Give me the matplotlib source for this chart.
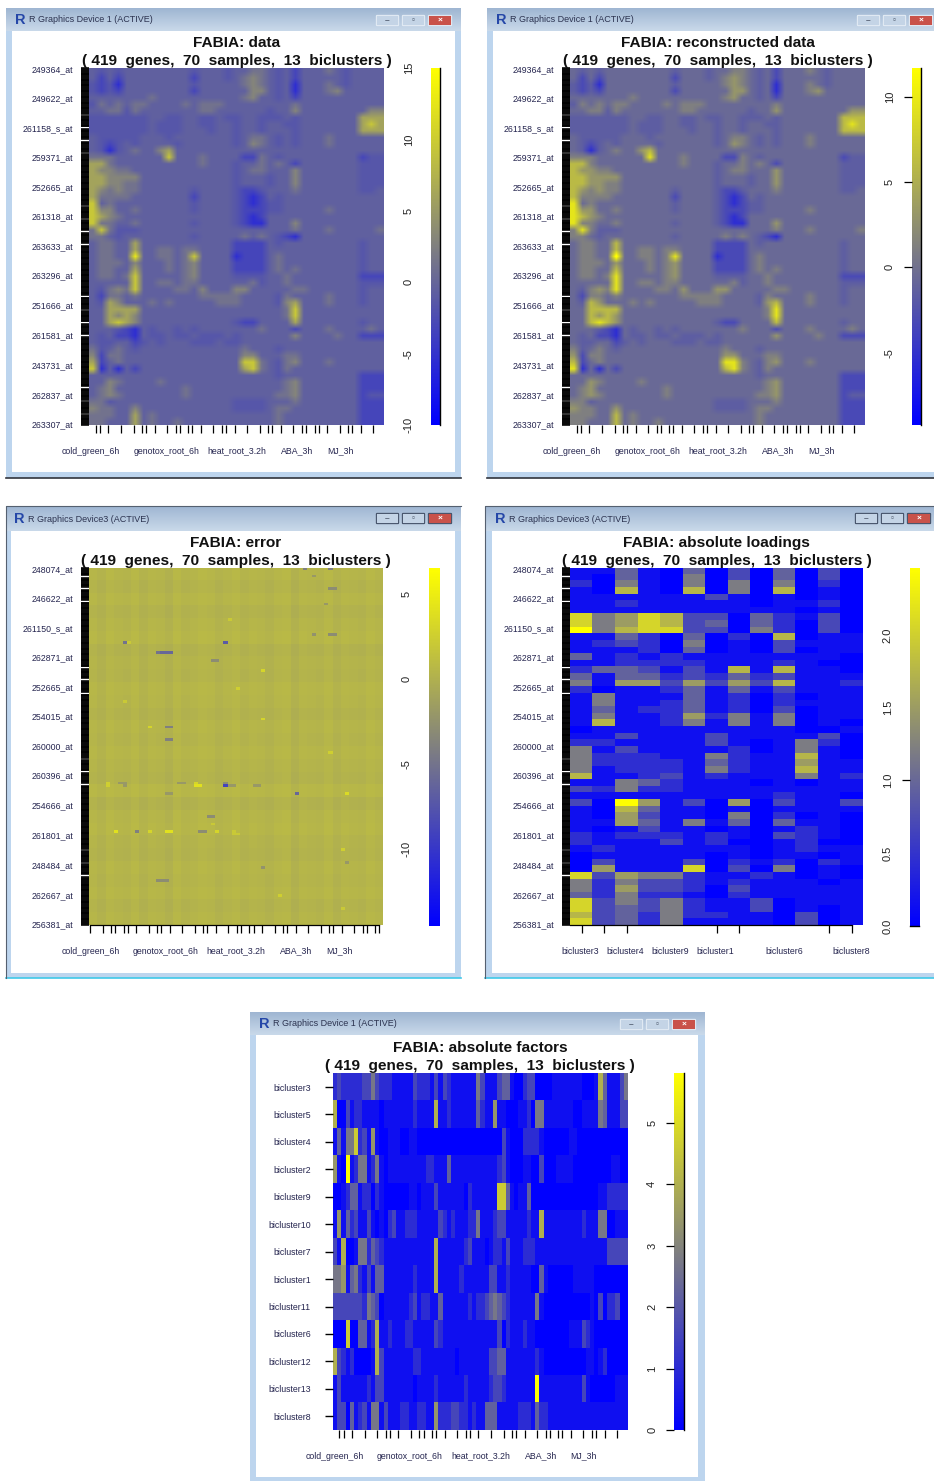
import numpy as np
import matplotlib
matplotlib.use("Agg")
import matplotlib.pyplot as plt
from matplotlib.colors import LinearSegmentedColormap
from matplotlib.patches import Rectangle, FancyBboxPatch

W, H = 934, 1481
plt.rcParams['font.family'] = ['Liberation Sans', 'DejaVu Sans']

SUBTITLE = "( 419  genes,  70  samples,  13  biclusters )"
N_GENES = 419
N_SAMPLES = 70

# expression grid: 54 gene groups x 35 sample groups, as level digits
DATA_LEVELS = [-8, -5.5, -3.2, -1.6, -0.6, 1.2, 3, 6, 9.5, 13]
DATA_GRID = [
    "43434 44444 44344 43445 54342 44454 34444",
    "42424 44444 44244 43456 54342 44444 34444",
    "32314 44444 44344 44456 54341 44454 34444",
    "32324 44444 44244 44446 64341 44456 44444",
    "44444 44544 44444 44456 44342 44444 44444",
    "35454 55444 45455 54444 44445 44444 44444",
    "44553 54444 44455 44444 43446 44444 44466",
    "33333 33443 34433 43344 33343 44444 44777",
    "33333 33433 34433 44344 34433 44444 44787",
    "33333 33433 34443 44344 34443 44444 44777",
    "43333 34443 44444 44345 54343 44454 44444",
    "43234 34444 34444 44346 54343 44454 44444",
    "43134 54467 44444 44444 44444 44444 44444",
    "55544 44448 44454 44422 54344 44444 44233",
    "77544 44444 44454 44344 54542 44444 44333",
    "76655 44444 44444 44345 54446 44444 44333",
    "77666 64444 44444 44344 43446 44444 44333",
    "77665 54444 44444 44344 43446 44444 44333",
    "76565 54444 44344 44322 34445 44444 44334",
    "75555 44444 44244 44321 24344 44444 44444",
    "84544 44444 44344 44321 23344 44444 44444",
    "86644 54444 44344 44322 23344 44454 44444",
    "87654 44444 44444 44321 24444 44444 44444",
    "85544 54444 44344 44321 14446 44444 44444",
    "58533 34444 44444 44444 44445 44454 44445",
    "55434 44444 44344 44454 54321 44444 44444",
    "45544 74444 44444 44222 24344 44444 44344",
    "45544 74455 45544 44222 24444 44444 44344",
    "45544 94455 45844 44122 24544 44444 44344",
    "45554 64445 45644 44222 24544 44444 44344",
    "45544 74445 45644 44222 24545 44444 44344",
    "45545 84444 45644 44333 34454 44444 44222",
    "44444 84455 45544 44445 34454 44444 44333",
    "43565 84444 55464 44664 44445 54444 44344",
    "42554 54444 44455 55544 44354 44454 44344",
    "43764 44545 44444 55544 44367 44454 44344",
    "44777 74444 44444 44444 44458 44444 44444",
    "44767 64444 44444 44444 44458 44444 44444",
    "44787 64444 44444 44322 44447 44444 44344",
    "44432 14344 34344 44444 54442 44454 44454",
    "43422 14334 33433 34344 44446 44445 44222",
    "43344 23434 44333 43344 44444 44444 44444",
    "53454 34444 44444 44454 44344 44444 44444",
    "62554 44444 44444 44466 44455 44444 44444",
    "72454 44444 44444 44488 54356 44454 44444",
    "81414 24444 44444 44478 54354 44444 44444",
    "44444 44444 44444 44444 44344 44444 44222",
    "44654 44454 44444 44444 44456 44444 44222",
    "45644 44444 45444 44444 44456 44444 44222",
    "45654 44444 45444 44444 44556 44444 44233",
    "55344 44444 44444 44333 34445 44444 44222",
    "65544 64444 44444 44333 34554 44444 44222",
    "55544 74544 44444 44444 44544 44444 44222",
    "55444 74544 54444 44444 44544 44444 44222",
]

# error panel: baseline, faint bands, and the visible deviating cells (140 gene groups x 70 samples)
ERROR_BASE = 0.3
ERROR_ROW_SHIFT = [0.1, -0.1, 0.15, -0.15, 0.05, 0.2, -0.2, 0.0, -0.1, 0.15, 0.05, -0.15, 0.1, -0.05,
                   0.15, 0.0, -0.15, 0.25, -0.2, 0.1, 0.2, -0.05, -0.15, 0.1, 0.0, 0.15, -0.1, 0.05]
ERROR_COL_SHIFT = [0.1, -0.2, 0.2, 0.0, -0.1, 0.2, -0.2, 0.1, 0.0, -0.3, 0.2, -0.1, 0.0, 0.2, 0.1, -0.2, 0.0, 0.2,
                   -0.1, 0.1, 0.0, -0.2, 0.1, 0.2, -0.3, 0.1, 0.0, -0.1, 0.2, -0.2, 0.1, 0.0, -0.1, 0.2, 0.0]
ERROR_ROW = [33,33,33,33,29,29,0,0,8,8,26,26,26,3,36,36,29,62,62,62,67,67,
             84,84,84,84,84,85,85,85,85,85,85,85,84,85,85,84,88,88,88,88,
             103,103,103,103,103,103,103,103,103,104,104,97,97,122,122,122,117,
             59,40,14,20,52,72,110,115,128,133,100,47]
ERROR_COL = [16,17,18,19,8,9,51,57,57,58,53,57,58,53,29,30,32,18,19,14,18,19,
             4,7,8,21,22,25,26,32,33,34,39,40,25,4,8,32,49,18,19,61,
             6,11,14,18,19,26,27,30,34,34,35,28,29,16,17,18,41,
             41,41,56,33,8,57,60,61,45,60,29,35]
ERROR_VALUE = [-5,-6,-6,-6,-5,2,-4,-4,-3,-3,-2.5,-3,-3,-2,-3,-3,-7,-4,-4,3,-4,-4,
               2.5,-2,-2,-2,-2,4,4,-9,-2,-2,-2,-2,3,2.5,-2,-3,-6,-2,-2,3.5,
               4,-4,3,4,4,-3,-3,3,2,2,2,-3,-3,-3,-3,-3,-2.5,
               3,3,-2,2,2,2.5,2.5,-2,2.5,2,2,2.5]

# loadings: 54 gene groups x 13 biclusters, as level digits
LOADING_LEVELS = [0, 0.15, 0.45, 0.7, 0.95, 1.2, 1.5, 1.75, 2.05, 2.46]
LOADING_GRID = [
    "1141040304030", "1041050304030", "2051050505020", "1071070507010",
    "1111113101010", "1121111101120", "1111111111010", "8568733042130",
    "8568734042030", "9578833052030", "1142040207011", "1232050103111",
    "1112040103011", "4121211111110", "1122221112100", "2443131717110",
    "4144232423111", "5166363637112", "2011241413111", "1511141202011",
    "1511241202111", "1412241203011", "1511262515011", "1711251515010",
    "0111111111001", "1131113111130", "2211113101520", "5131111201510",
    "5222115211710", "5222214211611", "5122215211711", "7112312111512",
    "1154211101011", "3252211111111", "1111111112110", "3096130603113",
    "1074110101111", "1063110502010", "1164151404110", "1013110101210",
    "2122212103210", "2111312001200", "1211111101211", "0111110101101",
    "0311130212021", "0611180305010", "8365521121010", "5253321211101",
    "5263320311111", "4252210211111", "8353521130111", "8343521130101",
    "7342522110301", "8342511110301",
]

# factors: 13 biclusters x 70 samples, as level digits
FACTOR_LEVELS = [0, 0.35, 1.0, 1.6, 2.2, 2.7, 3.4, 4.0, 4.6, 5.8]
FACTOR_GRID = [
    "2322222335 3222111113 2221313211 1111531113 4410023300 0011111110 0017411135",
    "7003122111 1011111112 1111711211 1111421161 1000112055 1111111001 1115411133",
    "1415582316 1001110011 0000000000 0000000000 3100022221 0000001100 0000000000",
    "6109125512 5101111111 1122111411 1111111112 3100011003 0001111000 0000001100",
    "0012441220 2100000011 0111311111 1021111118 8410114000 0000000000 0001122222",
    "1614231131 0102311222 1111132121 1122511123 3111112117 1111111112 1115500111",
    "3170015524 3211111111 1111711111 1231110122 1311122211 1111111111 1111133333",
    "5561452131 4411111112 1111711111 2111111331 1211111004 1000000111 1100000000",
    "3333333254 3011111123 1221141111 1121223454 3211111151 0000000000 0103022300",
    "0008004412 7112111221 1111321111 1111111113 0211121100 0000001113 2100000000",
    "7321200001 7311111112 2111111110 1111111334 4111111121 0000000000 1101200000",
    "1311111121 3311111110 1111211111 1211111233 2111111191 1111111113 1000000111",
    "1330412315 5131112211 2211622233 2212114441 1111222142 2111111111 1111111111",
]

GENE_LABELS_A = ["249364_at", "249622_at", "261158_s_at", "259371_at", "252665_at", "261318_at",
                 "263633_at", "263296_at", "251666_at", "261581_at", "243731_at", "262837_at", "263307_at"]
GENE_LABELS_B = ["248074_at", "246622_at", "261150_s_at", "262871_at", "252665_at", "254015_at",
                 "260000_at", "260396_at", "254666_at", "261801_at", "248484_at", "262667_at", "256381_at"]
GENE_LABEL_POS = [1, 35, 70, 104, 139, 173, 209, 243, 278, 313, 348, 383, 418]
GENE_GAPS_A = [54, 69, 84, 99, 161, 176, 191, 206, 267, 283, 298, 313, 374, 390, 405]
GENE_GAPS_B = [9, 23, 38, 116, 130, 146, 223, 238, 253, 330, 345, 360]

SAMPLE_TICKS_A = [1, 2, 4, 7, 10, 12, 13, 15, 18, 20, 21, 23, 24, 26, 29, 31, 32, 34, 37, 40, 42, 43,
                  45, 48, 50, 51, 53, 54, 56, 59, 61, 62, 64, 67]
SAMPLE_TICKS_B = [0, 3, 5, 6, 8, 9, 11, 14, 16, 17, 19, 22, 25, 27, 28, 30, 33, 35, 36, 38, 39, 41,
                  44, 46, 47, 49, 52, 55, 57, 58, 60, 63, 65, 66, 68, 69]
SAMPLE_LABELS = ["cold_green_6h", "genotox_root_6h", "heat_root_3.2h", "ABA_3h", "MJ_3h"]
SAMPLE_LABEL_POS = [0.3, 18.3, 35, 49.4, 59.6]
LOADING_TICKS = [0.5, 1.5, 2.5, 6.5, 7.5, 11.5, 12.5]
LOADING_LABELS = ["bicluster3", "bicluster4", "bicluster9", "bicluster1", "bicluster6", "bicluster8"]
LOADING_LABEL_POS = [0.45, 2.45, 4.45, 6.45, 9.5, 12.45]
FACTOR_LABELS = ["bicluster3", "bicluster5", "bicluster4", "bicluster2", "bicluster9", "bicluster10",
                 "bicluster7", "bicluster1", "bicluster11", "bicluster6", "bicluster12", "bicluster13", "bicluster8"]

cmap = LinearSegmentedColormap.from_list("fabia", ["#0000ff", "#808080", "#ffff00"])
NAVY = "#25254f"
TICK_FONT = 6.3


def parse(rows):
    return np.array([[int(c) for c in r.replace(" ", "")] for r in rows])


data_values = np.array(DATA_LEVELS)[parse(DATA_GRID)]
error_values = ERROR_BASE + np.repeat(np.array(ERROR_ROW_SHIFT), 5)[:, None] + np.repeat(np.array(ERROR_COL_SHIFT), 2)[None, :]
for r, c, v in zip(ERROR_ROW, ERROR_COL, ERROR_VALUE):
    error_values[r, c] = v
loading_values = np.array(LOADING_LEVELS)[parse(LOADING_GRID)]
factor_values = np.array(FACTOR_LEVELS)[parse(FACTOR_GRID)]

fig = plt.figure(figsize=(W / 100, H / 100), dpi=100, facecolor="white")
chrome = fig.add_axes([0, 0, 1, 1], zorder=0)
chrome.set_xlim(0, W)
chrome.set_ylim(H, 0)
chrome.axis("off")


def px_axes(x0, y0, x1, y1):
    return fig.add_axes([x0 / W, 1 - y1 / H, (x1 - x0) / W, (y1 - y0) / H], zorder=2)


def window(x0, y0, x1, y1, ix0, iy0, ix1, iy1, caption, active, edge):
    chrome.add_patch(Rectangle((x0, y0), x1 - x0, y1 - y0, fc="#bdd5ee", ec="none", zorder=1))
    grad = np.linspace(0, 1, 32)[:, None]
    tb = LinearSegmentedColormap.from_list("tb", ["#9fb6d2", "#c9d9ea"])
    chrome.imshow(grad, extent=(x0, x1, iy0, y0), cmap=tb, aspect="auto", zorder=1.5)
    chrome.set_xlim(0, W)
    chrome.set_ylim(H, 0)
    chrome.add_patch(Rectangle((ix0, iy0), ix1 - ix0, iy1 - iy0, fc="white", ec="none", zorder=2))
    chrome.plot([x0, x1], [y1, y1], color=edge, lw=1.2, zorder=3)
    if active:
        chrome.plot([x0, x0, x1], [y1, y0, y0], color="#556070", lw=0.8, zorder=3)
    chrome.text(ix0 + 3, (y0 + iy0) / 2 + 0.5, "R", color="#2547a8", fontsize=10.5, fontweight="bold",
                va="center", ha="left", zorder=4)
    chrome.text(ix0 + 17, (y0 + iy0) / 2 + 0.5, caption, color="#2c3350", fontsize=6.5,
                va="center", ha="left", zorder=4)
    bx = x0 + 371
    for i, (w, col) in enumerate(zip([23, 23, 24], ["#c4d4e6", "#c4d4e6", "#c9524a"])):
        left = bx + [0, 26, 52][i]
        if left >= W:
            continue
        chrome.add_patch(FancyBboxPatch((left, y0 + 8), w - 2, 9, boxstyle="round,pad=0.6", fc=col,
                                        ec="#46536a" if active else "#e2ebf4", lw=0.8, zorder=4))
        chrome.text(left + w / 2 - 1, y0 + 12.5, ["–", "▫", "×"][i],
                    color="#ffffff" if i == 2 else "#4a5568", fontsize=6, fontweight="bold",
                    ha="center", va="center", zorder=5)


def heatmap(box, values, xmax, ymax, vmin, vmax, title, interpolation="nearest"):
    ax = px_axes(*box)
    ax.imshow(values, cmap=cmap, vmin=vmin, vmax=vmax, extent=(0, xmax, ymax, 0), aspect="auto",
              interpolation=interpolation)
    for s in ax.spines.values():
        s.set_visible(False)
    ax.set_title(title + "\n" + SUBTITLE, fontsize=11.1, fontweight="bold", color="#111111",
                 pad=1.5, linespacing=1.4)
    return ax


def gene_axis(ax, labels, gaps):
    removed = set()
    for g in gaps:
        removed.update([g, g + 1])
    ticks = [g + 0.5 for g in range(N_GENES) if g not in removed]
    ax.set_yticks(ticks, [""] * len(ticks))
    ax.tick_params(axis="y", which="major", length=5.6, width=1.15, color="black")
    ax.set_yticks(GENE_LABEL_POS, labels, minor=True, fontsize=TICK_FONT, color=NAVY)
    ax.tick_params(axis="y", which="minor", length=0, pad=11.5)


def sample_axis(ax, ticks, labels, label_pos, line=None):
    ax.set_xticks(ticks, [""] * len(ticks))
    ax.tick_params(axis="x", which="major", length=6, width=0.9, color="black")
    ax.set_xticks(label_pos, labels, minor=True, fontsize=TICK_FONT, color=NAVY)
    ax.tick_params(axis="x", which="minor", length=0, pad=15.5)
    if line is not None:
        ax.spines["bottom"].set_visible(True)
        ax.spines["bottom"].set_bounds(*line)
        ax.spines["bottom"].set_linewidth(0.9)


def colorbar(box, vmin, vmax, labeled, marked, edge_line=False, bottom_line=False, fmt="%g"):
    ax = px_axes(*box)
    ax.imshow(np.linspace(0, 1, 256)[:, None], cmap=cmap, origin="lower", extent=(0, 1, vmin, vmax),
              aspect="auto")
    ax.set_xticks([])
    for s in ax.spines.values():
        s.set_visible(False)
    if edge_line:
        ax.spines["right"].set_visible(True)
        ax.spines["right"].set_linewidth(1.0)
    if bottom_line:
        ax.spines["bottom"].set_visible(True)
        ax.spines["bottom"].set_linewidth(1.0)
    unmarked = [v for v in labeled if v not in marked]
    ax.set_yticks(marked, [fmt % v for v in marked], rotation=90, va="center", fontsize=8, color="#222222")
    ax.set_yticks(unmarked, [fmt % v for v in unmarked], minor=True, rotation=90, va="center", fontsize=8,
                  color="#222222")
    ax.tick_params(axis="y", which="major", length=5.8, width=0.9, pad=6.5)
    ax.tick_params(axis="y", which="minor", length=0, pad=12.3)
    ax.set_ylim(vmin, vmax)
    return ax


# ---------- windows
window(6, 8, 461, 478, 12, 31, 455, 472, "R Graphics Device 1 (ACTIVE)", False, "#30343c")
window(487, 8, 945, 478, 493, 31, 945, 472, "R Graphics Device 1 (ACTIVE)", False, "#30343c")
window(6, 506, 461, 978, 11, 531, 455, 973, "R Graphics Device3 (ACTIVE)", True, "#40c8e8")
window(485, 506, 945, 978, 492, 531, 945, 973, "R Graphics Device3 (ACTIVE)", True, "#40c8e8")
window(250, 1012, 705, 1490, 256, 1035, 698, 1477, "R Graphics Device 1 (ACTIVE)", False, "#30343c")

# ---------- data
ax = heatmap((89.3, 68, 384, 425), data_values, N_SAMPLES, N_GENES, -10, 15, "FABIA: data", "bilinear")
gene_axis(ax, GENE_LABELS_A, GENE_GAPS_A)
sample_axis(ax, [s + 0.5 for s in SAMPLE_TICKS_A], SAMPLE_LABELS, SAMPLE_LABEL_POS)
colorbar((431, 68, 440, 425), -10, 15, [15, 10, 5, 0, -5, -10], [], edge_line=True)

# ---------- reconstructed data
ax = heatmap((570.3, 68, 865, 425), data_values, N_SAMPLES, N_GENES, -9.25, 11.7, "FABIA: reconstructed data", "bilinear")
gene_axis(ax, GENE_LABELS_A, GENE_GAPS_A)
sample_axis(ax, [s + 0.5 for s in SAMPLE_TICKS_A], SAMPLE_LABELS, SAMPLE_LABEL_POS)
colorbar((911.7, 68, 921, 425), -9.25, 11.7, [10, 5, 0, -5], [10, 5, 0], edge_line=True)

# ---------- error
ax = heatmap((89.3, 568, 382.7, 925), error_values, N_SAMPLES, N_GENES, -14.5, 6.5, "FABIA: error")
gene_axis(ax, GENE_LABELS_B, GENE_GAPS_B)
sample_axis(ax, [s + 0.2 for s in SAMPLE_TICKS_B], SAMPLE_LABELS, SAMPLE_LABEL_POS, line=(0.2, 69.2))
colorbar((429, 568, 439, 926), -14.5, 6.5, [5, 0, -5, -10], [])

# ---------- loadings
ax = heatmap((570.3, 568, 863.3, 925), loading_values, 13, N_GENES, 0, 2.46, "FABIA: absolute loadings")
gene_axis(ax, GENE_LABELS_B, GENE_GAPS_B)
sample_axis(ax, LOADING_TICKS, LOADING_LABELS, LOADING_LABEL_POS, line=(0, 12.5))
colorbar((910, 568, 919.3, 926), 0, 2.46, [2, 1.5, 1, 0.5, 0], [1], bottom_line=True, fmt="%.1f")

# ---------- factors
ax = heatmap((333, 1073.3, 627.7, 1430), factor_values, N_SAMPLES, 13, 0, 5.8, "FABIA: absolute factors")
ax.set_yticks(np.arange(13) + 0.5, FACTOR_LABELS, fontsize=TICK_FONT, color=NAVY)
ax.tick_params(axis="y", length=6, width=1.0, pad=10)
sample_axis(ax, [s + 0.5 for s in SAMPLE_TICKS_A], SAMPLE_LABELS, SAMPLE_LABEL_POS)
colorbar((674.3, 1073.3, 683.7, 1430), 0, 5.8, [5, 4, 3, 2, 1, 0], [5, 4, 3, 2, 1, 0], edge_line=True)

fig.savefig("out.png", dpi=100)
